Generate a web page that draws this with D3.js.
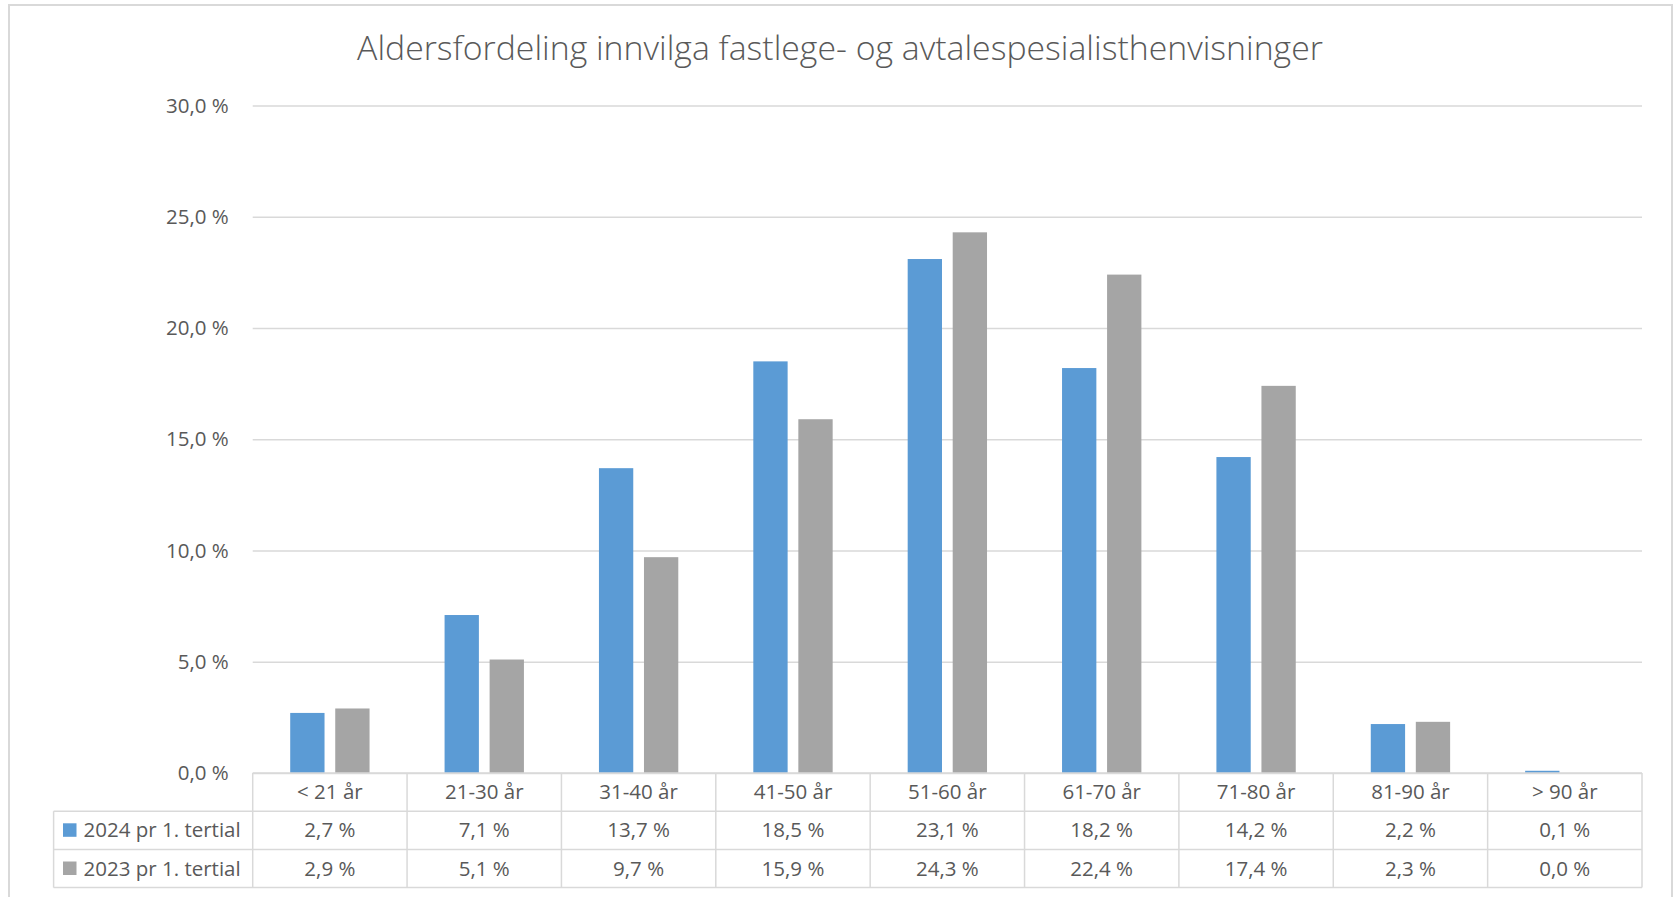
<!DOCTYPE html>
<html>
<head>
<meta charset="utf-8">
<script src="https://cdn.jsdelivr.net/npm/d3@7"></script>
<style>
  body { margin: 0; background: #fff; }
  text { font-family: "Open Sans", "Noto Sans", sans-serif; fill: #595959; }
</style>
</head>
<body>
<svg id="chart" width="1678" height="897"></svg>
<script>
// Chart data
var categories = ["< 21 år", "21-30 år", "31-40 år", "41-50 år", "51-60 år", "61-70 år", "71-80 år", "81-90 år", "> 90 år"];
var seriesNames = ["2024 pr 1. tertial", "2023 pr 1. tertial"];
var values2024 = [2.7, 7.1, 13.7, 18.5, 23.1, 18.2, 14.2, 2.2, 0.1];
var values2023 = [2.9, 5.1, 9.7, 15.9, 24.3, 22.4, 17.4, 2.3, 0.0];
var yTicks = [0, 5, 10, 15, 20, 25, 30];
var colors = ["#5B9BD5", "#A5A5A5"];
var title = "Aldersfordeling innvilga fastlege- og avtalespesialisthenvisninger";

var seriesValues = [values2024, values2023];

// Layout
var plotLeft = 252.7, plotRight = 1642, plotTop = 105.5, plotBottom = 773;
var rowH = 38.2;
var legendLeft = 53.6;
var gridColor = "#D9D9D9";
var fontSize = 20.5;

var svg = d3.select('#chart');

// norwegian number format, e.g. "2,7 %"
var no = d3.formatLocale({ decimal: ",", thousands: " ", grouping: [3], currency: ["", " kr"] });
var fmt = no.format(".1f");
function pct(v) { return fmt(v) + " %"; }

// outer chart border
svg.append('rect')
    .attr('x', 9).attr('y', 5)
    .attr('width', 1663).attr('height', 900)
    .attr('fill', 'none')
    .attr('stroke', gridColor)
    .attr('stroke-width', 2);

// scales
var x0 = d3.scaleBand().domain(categories).range([plotLeft, plotRight]).padding(0);
var groupPad = x0.bandwidth() * 0.243;
var x1 = d3.scaleBand().domain(seriesNames)
    .range([groupPad, x0.bandwidth() - groupPad])
    .paddingInner(0.238).paddingOuter(0);
var yScale = d3.scaleLinear().domain([0, 30]).range([plotBottom, plotTop]);

// y axis with gridlines
var yAxis = d3.axisLeft(yScale)
    .tickValues(yTicks)
    .tickSize(-(plotRight - plotLeft))
    .tickPadding(24)
    .tickFormat(pct);

var gy = svg.append('g')
    .attr('transform', 'translate(' + plotLeft + ',0)')
    .call(yAxis);
gy.select('.domain').remove();
gy.selectAll('.tick line').attr('stroke', gridColor).attr('stroke-width', 1.5);
gy.selectAll('.tick text')
    .attr('font-size', fontSize)
    .style('font-family', '"Open Sans", sans-serif')
    .attr('fill', '#595959');

// bars
var groups = svg.append('g').selectAll('g')
    .data(categories)
    .enter()
    .append('g')
    .attr('transform', function(d) { return 'translate(' + x0(d) + ',0)'; });

groups.selectAll('rect')
    .data(function(d, i) {
        return seriesNames.map(function(s, j) { return { series: s, value: seriesValues[j][i], idx: j }; });
    })
    .enter()
    .append('rect')
    .attr('x', function(d) { return x1(d.series); })
    .attr('width', x1.bandwidth())
    .attr('y', function(d) { return yScale(d.value); })
    .attr('height', function(d) { return yScale(0) - yScale(d.value); })
    .attr('fill', function(d) { return colors[d.idx]; });

// data table under the plot
var table = svg.append('g');
var line = function(x1_, y1_, x2_, y2_) {
    table.append('line')
        .attr('x1', x1_).attr('y1', y1_).attr('x2', x2_).attr('y2', y2_)
        .attr('stroke', gridColor).attr('stroke-width', 1.5);
};

// horizontal lines
line(plotLeft, plotBottom, plotRight, plotBottom);
for (var r = 1; r <= 3; r++) {
    line(legendLeft, plotBottom + rowH * r, plotRight, plotBottom + rowH * r);
}
// vertical lines
line(legendLeft, plotBottom + rowH, legendLeft, plotBottom + rowH * 3);
categories.forEach(function(c) {
    line(x0(c), plotBottom, x0(c), plotBottom + rowH * 3);
});
line(plotRight, plotBottom, plotRight, plotBottom + rowH * 3);

// category labels
table.selectAll('text.cat')
    .data(categories)
    .enter()
    .append('text')
    .attr('class', 'cat')
    .attr('x', function(d) { return x0(d) + x0.bandwidth() / 2; })
    .attr('y', plotBottom + rowH / 2)
    .attr('dy', '0.35em')
    .attr('text-anchor', 'middle')
    .attr('font-size', fontSize)
    .text(function(d) { return d; });

// value rows + legend keys
seriesNames.forEach(function(s, j) {
    var cy = plotBottom + rowH * (j + 1) + rowH / 2;
    table.append('rect')
        .attr('x', 63).attr('y', cy - 7)
        .attr('width', 13.5).attr('height', 13.5)
        .attr('fill', colors[j]);
    table.append('text')
        .attr('x', 83.5)
        .attr('y', cy)
        .attr('dy', '0.35em')
        .attr('font-size', fontSize)
        .text(s);
    table.selectAll('text.v' + j)
        .data(seriesValues[j])
        .enter()
        .append('text')
        .attr('class', 'v' + j)
        .attr('x', function(d, i) { return x0(categories[i]) + x0.bandwidth() / 2; })
        .attr('y', cy)
        .attr('dy', '0.35em')
        .attr('text-anchor', 'middle')
        .attr('font-size', fontSize)
        .text(function(d) { return pct(d); });
});

// title
var t = svg.append('text')
    .attr('x', 840)
    .attr('y', 60)
    .attr('text-anchor', 'middle')
    .attr('font-size', 28)
    .attr('font-weight', 300)
    .text(title);
// fit title width to the original (~966px)
var w = t.node().getComputedTextLength();
t.attr('font-size', 28 * 966 / w);
</script>
</body>
</html>
